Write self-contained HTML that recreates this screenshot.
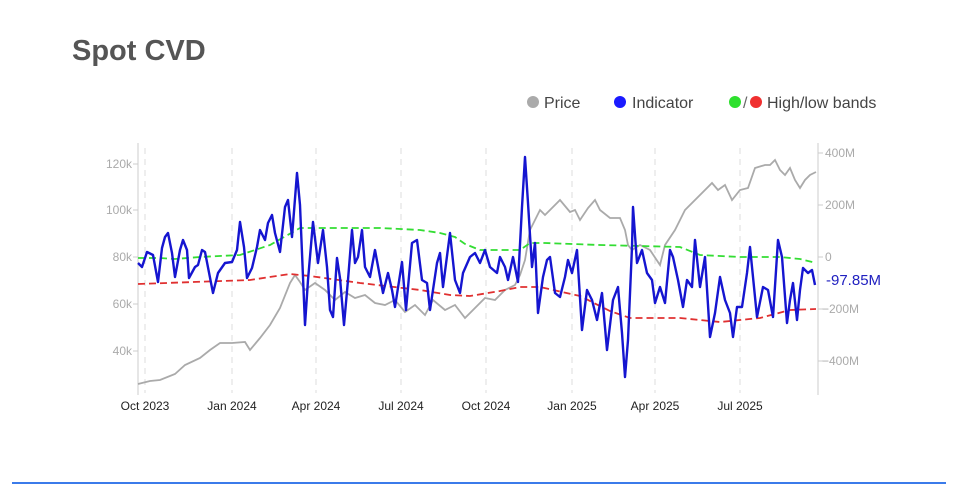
<!DOCTYPE html>
<html><head><meta charset="utf-8"><style>
body{margin:0;background:#fff;width:956px;height:485px;overflow:hidden;font-family:"Liberation Sans",sans-serif;}
</style></head><body>
<svg width="956" height="485" xmlns="http://www.w3.org/2000/svg" style="position:absolute;left:0;top:0">
<text x="72" y="60" font-size="29" font-weight="bold" fill="#555" font-family="Liberation Sans,sans-serif">Spot CVD</text>
<g font-size="16" fill="#444" font-family="Liberation Sans,sans-serif">
<circle cx="533" cy="102" r="6" fill="#aaa"/><text x="544" y="108">Price</text>
<circle cx="620" cy="102" r="6" fill="#1a1aff"/><text x="632" y="108">Indicator</text>
<circle cx="735" cy="102" r="6" fill="#2ee02e"/><text x="743" y="108" fill="#666">/</text><circle cx="756" cy="102" r="6" fill="#f03030"/><text x="767" y="108">High/low bands</text>
</g>
<g stroke="#ddd" stroke-dasharray="6,5" stroke-width="1">
<line x1="145" y1="148" x2="145" y2="393"/><line x1="232" y1="148" x2="232" y2="393"/><line x1="316" y1="148" x2="316" y2="393"/><line x1="401" y1="148" x2="401" y2="393"/><line x1="486" y1="148" x2="486" y2="393"/><line x1="572" y1="148" x2="572" y2="393"/><line x1="655" y1="148" x2="655" y2="393"/><line x1="740" y1="148" x2="740" y2="393"/>
</g>
<line x1="138" y1="143" x2="138" y2="395" stroke="#ccc"/>
<line x1="818" y1="143" x2="818" y2="395" stroke="#ccc"/>
<g font-size="12" fill="#aaa" text-anchor="end" font-family="Liberation Sans,sans-serif">
<text x="132" y="168">120k</text><text x="132" y="214">100k</text><text x="132" y="261">80k</text><text x="132" y="308">60k</text><text x="132" y="355">40k</text>
</g>
<g stroke="#ccc"><line x1="133" y1="164" x2="138" y2="164"/><line x1="133" y1="210" x2="138" y2="210"/><line x1="133" y1="257" x2="138" y2="257"/><line x1="133" y1="304" x2="138" y2="304"/><line x1="133" y1="351" x2="138" y2="351"/>
<line x1="818" y1="153" x2="823" y2="153"/><line x1="818" y1="205" x2="823" y2="205"/><line x1="818" y1="257" x2="823" y2="257"/><line x1="818" y1="309" x2="823" y2="309"/><line x1="818" y1="361" x2="823" y2="361"/></g>
<g font-size="12" fill="#aaa" font-family="Liberation Sans,sans-serif">
<text x="825" y="157">400M</text><text x="825" y="209">200M</text><text x="825" y="261">0</text><text x="822" y="313">−200M</text><text x="822" y="365">−400M</text>
</g>
<g font-size="12" fill="#222" text-anchor="middle" font-family="Liberation Sans,sans-serif">
<text x="145" y="410">Oct 2023</text><text x="232" y="410">Jan 2024</text><text x="316" y="410">Apr 2024</text><text x="401" y="410">Jul 2024</text><text x="486" y="410">Oct 2024</text><text x="572" y="410">Jan 2025</text><text x="655" y="410">Apr 2025</text><text x="740" y="410">Jul 2025</text>
</g>
<polyline fill="none" stroke="#aaa" stroke-width="1.8" points="138,384 150,381 160,380 175,374 185,365 200,358 210,350 220,343 232,343 245,342 250,350 260,338 270,325 280,308 290,283 295,275 300,282 305,290 315,283 325,290 335,300 345,292 355,298 365,295 375,303 385,305 395,300 405,312 415,305 425,315 433,300 445,310 455,305 465,318 475,308 485,298 495,300 505,290 515,285 520,275 525,260 530,230 535,220 540,210 545,215 555,205 560,200 570,212 575,210 580,220 588,208 595,200 600,210 610,218 620,218 625,230 628,245 632,250 640,245 650,250 660,265 665,245 675,230 685,210 695,200 705,190 712,183 718,190 725,185 732,200 740,190 748,188 755,168 765,165 770,165 775,160 780,170 785,175 790,168 795,180 800,188 805,180 810,175 816,172"/>
<polyline fill="none" stroke="#33dd33" stroke-width="1.8" stroke-dasharray="7,4" points="138,258 160,258 175,259 200,257 240,255 270,245 300,228 320,228 380,228 420,230 440,233 455,237 465,244 480,250 520,250 530,243 545,243 600,245 640,246 680,247 700,255 740,257 780,257 800,259 816,263"/>
<polyline fill="none" stroke="#e03030" stroke-width="1.8" stroke-dasharray="7,4" points="138,284 250,280 290,274 310,276 360,283 420,290 450,295 470,296 500,291 520,287 540,287 580,296 610,311 630,318 680,318 720,322 760,318 790,310 816,309"/>
<polyline fill="none" stroke="#1515d0" stroke-width="2.4" stroke-linejoin="round" points="138,263 142,267 147,252 153,255 158,282 162,248 165,237 168,233 172,253 175,277 180,250 183,240 187,250 189,278 195,267 198,265 202,250 205,252 213,293 218,273 225,263 232,262 237,250 240,222 244,247 247,278 252,268 257,247 260,230 265,240 268,223 272,215 275,233 280,252 285,207 288,200 292,237 297,173 300,205 305,325 308,280 313,222 318,263 323,230 327,267 330,310 333,317 337,258 340,278 344,325 348,280 352,230 355,263 358,257 362,230 365,267 370,277 375,250 380,277 383,293 388,273 392,290 395,307 402,262 406,310 412,243 417,240 422,280 427,283 430,310 437,263 440,253 443,287 450,233 455,280 460,293 463,273 470,257 475,253 480,263 485,250 490,267 497,273 500,257 505,267 508,280 513,257 518,282 522,207 525,157 528,203 532,267 535,243 538,313 543,277 547,260 550,257 555,293 560,297 565,277 568,260 572,273 577,250 582,330 587,290 592,300 597,320 602,293 607,350 613,300 618,287 622,333 625,377 628,340 632,247 633,207 637,263 642,250 647,273 652,280 655,303 660,287 665,303 670,250 673,257 678,280 683,307 687,280 692,287 695,240 700,287 705,257 710,337 715,313 720,277 725,300 730,313 733,337 737,307 742,307 747,273 750,247 757,317 763,287 768,290 773,317 778,240 782,257 787,323 790,300 793,283 797,320 800,290 803,268 808,273 812,270 815,285"/>
<text x="826" y="285" font-size="15" fill="#2020c0" font-family="Liberation Sans,sans-serif">-97.85M</text>
<line x1="12" y1="483" x2="946" y2="483" stroke="#3b7bea" stroke-width="2"/>
</svg>
</body></html>
